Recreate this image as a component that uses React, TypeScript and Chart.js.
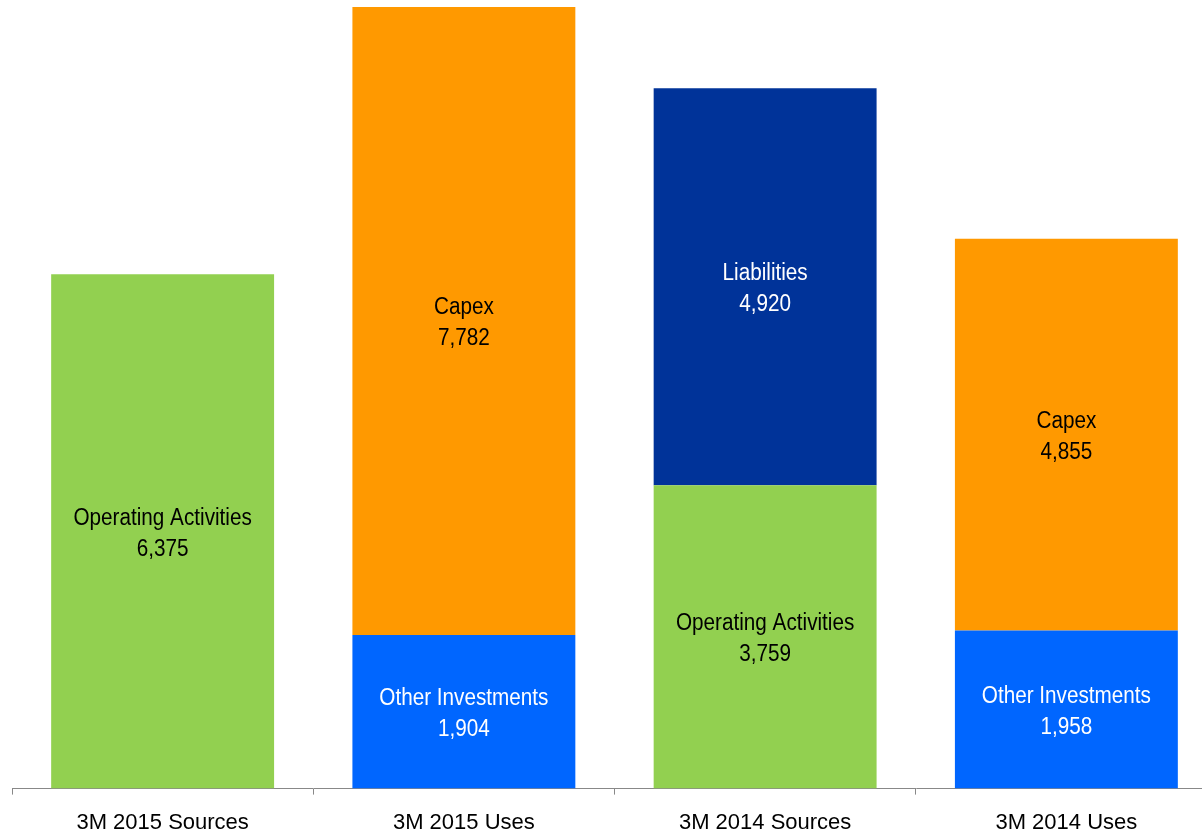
import React, { useEffect, useRef } from "react";
import { Chart, registerables } from "chart.js";

Chart.register(...registerables);

const categories = ["3M 2015 Sources", "3M 2015 Uses", "3M 2014 Sources", "3M 2014 Uses"];
const operatingActivities = [6375, 0, 3759, 0];
const otherInvestments = [0, 1904, 0, 1958];
const capex = [0, 7782, 0, 4855];
const liabilities = [0, 0, 4920, 0];

const FONT = '"Liberation Sans Narrow", "Arial Narrow", "Liberation Sans", Arial, sans-serif';

const labelPlugin = {
  id: "segLabels",
  afterDatasetsDraw(chart: any) {
    const ctx = chart.ctx;
    const sx = 0.9;
    chart.data.datasets.forEach((ds: any, di: number) => {
      const meta = chart.getDatasetMeta(di);
      meta.data.forEach((el: any, i: number) => {
        const v = ds.data[i];
        if (!v) return;
        const cx = el.x;
        const cy = (el.y + el.base) / 2;
        ctx.save();
        ctx.font = `23px ${FONT}`;
        ctx.textAlign = "center";
        ctx.textBaseline = "middle";
        ctx.fillStyle = ds.labelColor;
        ctx.translate(cx, cy);
        ctx.scale(sx, 1);
        ctx.fillText(ds.label, 0, -13);
        ctx.fillText(v.toLocaleString("en-US"), 0, 18);
        ctx.restore();
      });
    });
  },
};

export default function App() {
  const ref = useRef<HTMLCanvasElement>(null);
  useEffect(() => {
    if (!ref.current) return;
    const chart = new Chart(ref.current, {
      type: "bar",
      data: {
        labels: categories,
        datasets: [
          { label: "Operating Activities", data: operatingActivities, backgroundColor: "#92D050", labelColor: "#000000" } as any,
          { label: "Other Investments", data: otherInvestments, backgroundColor: "#0066FF", labelColor: "#FFFFFF" } as any,
          { label: "Capex", data: capex, backgroundColor: "#FF9900", labelColor: "#000000" } as any,
          { label: "Liabilities", data: liabilities, backgroundColor: "#003399", labelColor: "#FFFFFF" } as any,
        ],
      },
      options: {
        animation: false,
        responsive: false,
        maintainAspectRatio: false,
        layout: { padding: { top: 7, left: 12, right: 0, bottom: 0 } },
        plugins: { legend: { display: false }, tooltip: { enabled: false } },
        datasets: { bar: { barPercentage: 0.74, categoryPercentage: 1, borderWidth: 0 } },
        scales: {
          x: {
            stacked: true,
            offset: true,
            grid: {
              offset: true,
              drawOnChartArea: false,
              drawTicks: true,
              tickLength: 6,
              color: "#888888",
            },
            border: { display: true, color: "#888888", width: 1 },
            ticks: {
              color: "#000000",
              padding: 15,
              font: { family: FONT, size: 22 },
              maxRotation: 0,
            },
          },
          y: {
            stacked: true,
            display: false,
            min: 0,
            max: 9686,
          },
        },
      },
      plugins: [labelPlugin],
    });
    return () => chart.destroy();
  }, []);
  return (
    <div style={{ position: "fixed", left: 0, top: 0, width: 1202, height: 835, overflow: "hidden", background: "#fff" }}>
      <canvas ref={ref} width={1217} height={851} style={{ display: "block", width: 1217, height: 851 }} />
    </div>
  );
}
